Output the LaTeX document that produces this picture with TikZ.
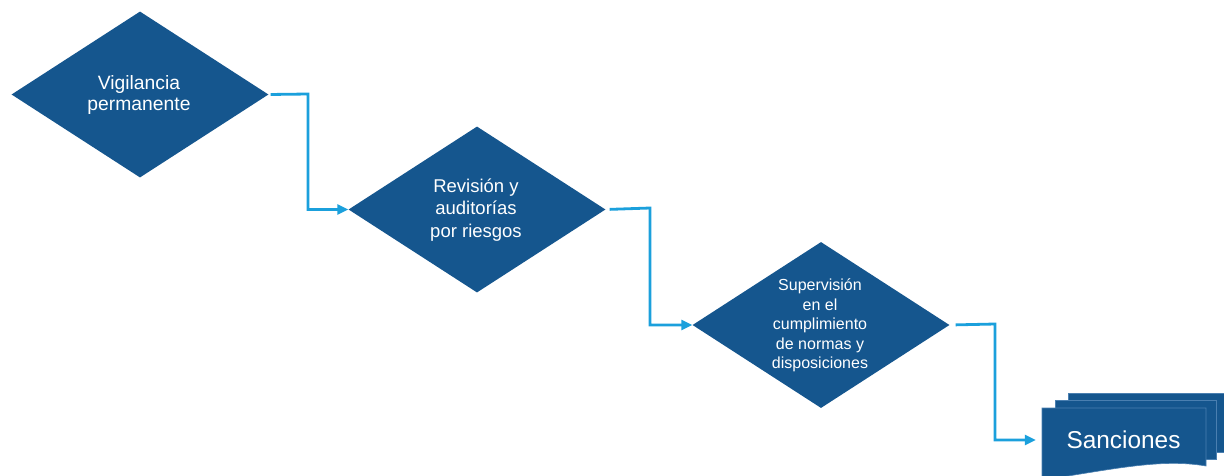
\documentclass[tikz,border=0pt]{standalone}
\usepackage{fontspec}
\setmainfont{Liberation Sans}
\usetikzlibrary{shapes.geometric,arrows.meta}
\definecolor{boxblue}{HTML}{15568E}
\definecolor{docedge}{HTML}{4A7FB0}
\definecolor{linkcyan}{HTML}{1BA0DC}
\tikzset{
  decision/.style={diamond, fill=boxblue, minimum width=257pt, minimum height=166pt, inner sep=0pt},
  dtext/.style={text=white, align=center, inner sep=0pt},
  link/.style={draw=linkcyan, line width=2.8pt, -{Triangle[length=11pt,width=10pt]}},
  docsheet/.style={fill=boxblue, draw=docedge, line width=0.6pt}
}
\begin{document}
\begin{tikzpicture}[x=1pt,y=-1pt]
\useasboundingbox (0,0) rectangle (1224,475);
\clip (0,0) rectangle (1224,475);
% diamonds
\node[decision] (d1) at (140,94.5) {};
\node[dtext, font=\fontsize{19.3}{20.5}\selectfont] (t1) at (139,95) {Vigilancia\\permanente};
\node[decision] (d2) at (477,209.5) {};
\node[dtext, font=\fontsize{18.5}{22.5}\selectfont] (t2) at (476,210) {Revisión y\\auditorías\\por riesgos};
\node[decision] (d3) at (821,325) {};
\node[dtext, font=\fontsize{16}{19.5}\selectfont] (t3) at (820,325.5) {Supervisión\\en el\\cumplimiento\\de normas y\\disposiciones};
% multi-document
\draw[docsheet] (1068,393) -- (1230,393) -- (1230,452) -- (1068,452) -- cycle;
\draw[docsheet] (1055,400) -- (1216,400) -- (1216,459) -- (1055,459) -- cycle;
\node[inner sep=0pt, minimum width=164pt, minimum height=70pt] (doc) at (1124,443) {};
\draw[docsheet] (1042,408) -- (1206,408) -- (1206,466)
  .. controls (1160,458) and (1110,470) .. (1042,480) -- cycle;
\node[text=white, font=\fontsize{24.4}{28}\selectfont, inner sep=0pt] (t4) at (1123.5,440) {Sanciones};
% connectors
\coordinate (b1) at (308,94);
\coordinate (b2) at (650,208);
\coordinate (b3) at (995,324);
\draw[link, shorten <=2pt] (d1.east) -- (b1) |- (d2.west);
\draw[link, shorten <=4pt] (d2.east) -- (b2) |- (d3.west);
\draw[link, shorten <=6pt] (d3.east) -- (b3) |- ([xshift=-6pt]doc.west |- 0,440);
\end{tikzpicture}
\end{document}
